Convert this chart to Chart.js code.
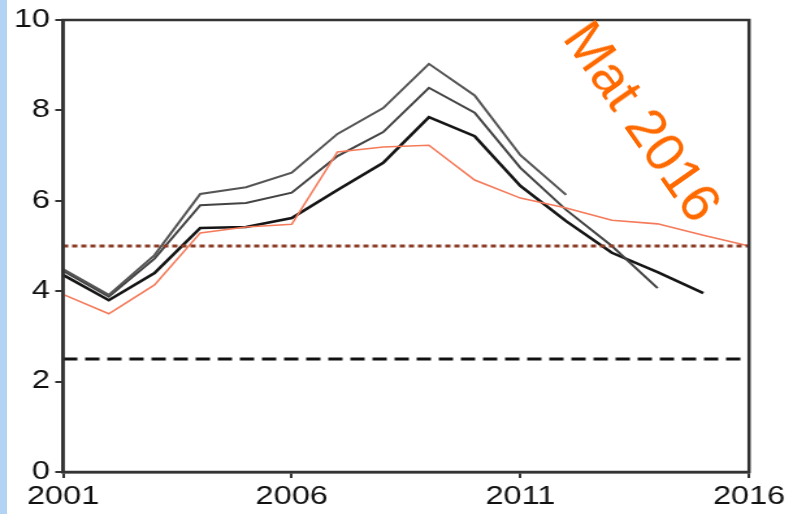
<!DOCTYPE html>
<html>
<head>
<meta charset="utf-8">
<script src="https://cdn.jsdelivr.net/npm/chart.js@4.4.1/dist/chart.umd.min.js"></script>
<style>
  html, body { margin: 0; padding: 0; background: #fff; overflow: hidden; }
  body { width: 790px; height: 514px; position: relative; }
  .strip { position: absolute; left: 0; top: 0; width: 7px; height: 514px; background: #b3d3f4; }
  .wrap { position: absolute; left: 0; top: 0; width: 608px; height: 514px; transform: scaleX(1.3); transform-origin: 0 0; }
  .note { position: absolute; left: 643px; top: 121px; transform: translate(-50%, -50%) rotate(55deg);
          font-family: 'Liberation Sans', Arial, sans-serif; font-size: 55px; color: #ff6a00; white-space: nowrap; }
</style>
</head>
<body>
<div class="strip"></div>
<div class="wrap"><canvas id="chart"></canvas></div>
<div class="note">Mat 2016</div>
<script>
// values
const years = [2001, 2002, 2003, 2004, 2005, 2006, 2007, 2008, 2009, 2010, 2011, 2012, 2013, 2014, 2015, 2016];
const vintageTop = [4.49, 3.92, 4.80, 6.15, 6.30, 6.62, 7.48, 8.05, 9.03, 8.33, 7.01, 6.13, null, null, null, null];
const vintageMid = [4.45, 3.88, 4.72, 5.90, 5.95, 6.18, 6.99, 7.52, 8.50, 7.95, 6.73, 5.80, 5.00, 4.07, null, null];
const vintageLatest = [4.36, 3.80, 4.40, 5.40, 5.42, 5.62, 6.24, 6.84, 7.85, 7.43, 6.33, 5.55, 4.85, 4.42, 3.96, null];
const actual = [3.93, 3.50, 4.14, 5.29, 5.42, 5.48, 7.08, 7.19, 7.23, 6.46, 6.06, 5.84, 5.57, 5.49, 5.24, 5.00];
const upperRef = 5;
const lowerRef = 2.5;
const xTicks = [2001, 2006, 2011, 2016];
const yTicks = [0, 2, 4, 6, 8, 10];

function pts(arr) {
  return years.map((y, i) => ({ x: y, y: arr[i] }));
}
function flat(v) {
  return [{ x: years[0], y: v }, { x: years[years.length - 1], y: v }];
}

const boxPlugin = {
  id: 'box',
  afterDraw(chart) {
    const a = chart.chartArea;
    const ctx = chart.ctx;
    ctx.save();
    ctx.strokeStyle = '#333';
    ctx.lineWidth = 2.5;
    ctx.strokeRect(a.left, a.top, a.right - a.left, a.bottom - a.top);
    ctx.restore();
  }
};

const font = { family: "'Liberation Sans', Arial, sans-serif", size: 25 };

new Chart(document.getElementById('chart'), {
  type: 'line',
  data: {
    datasets: [
      { data: flat(lowerRef), borderColor: '#111', borderWidth: 3, borderDash: [11, 6] },
      { data: flat(upperRef), borderColor: '#8b3a24', borderWidth: 3, borderDash: [4, 3] },
      { data: pts(actual), borderColor: '#f47a5a', borderWidth: 1.6 },
      { data: pts(vintageTop), borderColor: '#555', borderWidth: 2 },
      { data: pts(vintageMid), borderColor: '#444', borderWidth: 2 },
      { data: pts(vintageLatest), borderColor: '#151515', borderWidth: 2.6 }
    ]
  },
  options: {
    responsive: true,
    maintainAspectRatio: false,
    animation: false,
    spanGaps: false,
    elements: { point: { radius: 0 }, line: { tension: 0 } },
    layout: { padding: { left: 0, right: 31.8, top: 20, bottom: 0 } },
    plugins: { legend: { display: false }, tooltip: { enabled: false } },
    scales: {
      x: {
        type: 'linear',
        min: 2001,
        max: 2016,
        afterBuildTicks: s => { s.ticks = xTicks.map(v => ({ value: v })); },
        afterFit: s => { s.height = 42; },
        grid: { drawOnChartArea: false, drawTicks: true, tickLength: 6, color: '#333', lineWidth: 2 },
        border: { display: true, color: '#333', width: 2.5 },
        ticks: { font: font, color: '#111', padding: 4, maxRotation: 0, callback: v => String(v) }
      },
      y: {
        min: 0,
        max: 10,
        afterBuildTicks: s => { s.ticks = yTicks.map(v => ({ value: v })); },
        afterFit: s => { s.width = 48.5; },
        grid: { drawOnChartArea: false, drawTicks: true, tickLength: 6, color: '#333', lineWidth: 2 },
        border: { display: true, color: '#333', width: 2.5 },
        ticks: { font: font, color: '#111', padding: 4, callback: v => String(v) }
      }
    }
  },
  plugins: [boxPlugin]
});
</script>
</body>
</html>
